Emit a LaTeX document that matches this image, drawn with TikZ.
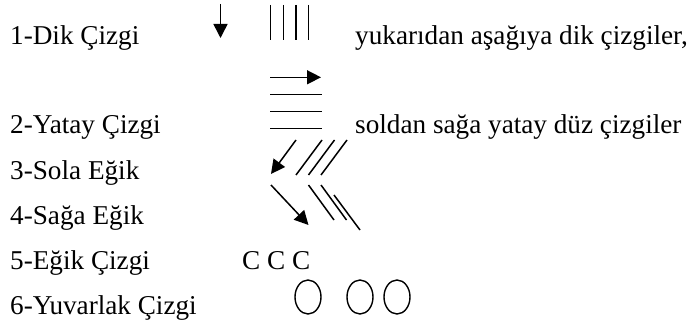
\documentclass[tikz,border=0pt]{standalone}
\usepackage{fontspec}
\setmainfont{Liberation Serif}
\usetikzlibrary{arrows.meta}
\begin{document}
\begin{tikzpicture}[x=1pt,y=-1pt,
  lbl/.style={anchor=base west,inner sep=0pt,font=\fontsize{27.2}{30}\selectfont},
  stroke/.style={line width=1.5pt},
  arr/.style={line width=1.5pt,-{Triangle[length=14pt,width=14pt]}},
  oval/.style={line width=1.4pt,ellipse}]
\useasboundingbox (0,0) rectangle (696,326);
% left labels
\node[lbl] (l1) at (10,45) {1-Dik Çizgi};
\node[lbl] (l2) at (10,134) {2-Yatay Çizgi};
\node[lbl] (l3) at (10,179) {3-Sola Eğik};
\node[lbl] (l4) at (10,224) {4-Sağa Eğik};
\node[lbl] (l5) at (10,269) {5-Eğik Çizgi};
\node[lbl] (l6) at (10,314) {6-Yuvarlak Çizgi};
% right texts
\node[lbl] (r1) at (355,45) {yukarıdan aşağıya dik çizgiler,};
\node[lbl] (r2) at (355,134) {soldan sağa yatay düz çizgiler};
\node[lbl] (c5) at (242,269) {C C C};
% 1: vertical
\coordinate (da1) at (220.5,4); \coordinate (da2) at (220.5,38);
\draw[arr] (da1) -- (da2);
\foreach \x in {270.7,283.3,296,308.3}{\draw[stroke] (\x,5) -- (\x,40);}
% 2: horizontal
\coordinate (ra1) at (270,77.3); \coordinate (ra2) at (321,77.3);
\draw[arr] (ra1) -- (ra2);
\foreach \y in {94.5,111.5,128.5}{\draw[stroke] (270,\y) -- (321.5,\y);}
% 3: left oblique
\coordinate (sa1) at (296,140); \coordinate (sa2) at (271,174);
\draw[arr] (sa1) -- (sa2);
\draw[stroke] (296,175) -- (322,140);
\draw[stroke] (308.5,175) -- (334.5,140);
\draw[stroke] (321,175) -- (347,140);
% 4: right oblique
\coordinate (ea1) at (271,185); \coordinate (ea2) at (308.5,225);
\draw[arr] (ea1) -- (ea2);
\draw[stroke] (308.5,185) -- (334,220);
\draw[stroke] (321,185) -- (346.5,220);
\draw[stroke] (334,195) -- (360,230);
% 6: ovals
\foreach \x in {308,360,397}{\draw[line width=1.4pt] (\x,297) ellipse [x radius=13,y radius=17];}
\end{tikzpicture}
\end{document}
